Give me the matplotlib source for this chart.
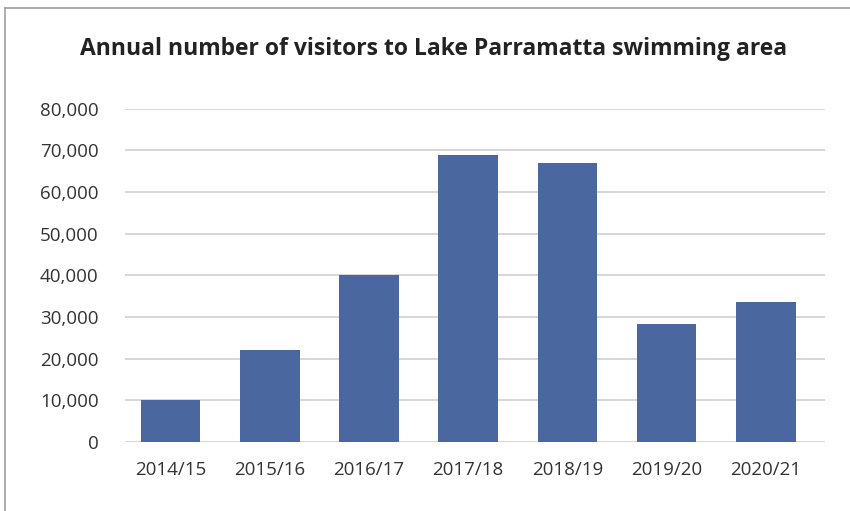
import matplotlib
matplotlib.use('Agg')
import matplotlib.pyplot as plt
from matplotlib.lines import Line2D

plt.rcParams['font.family'] = ['Open Sans', 'DejaVu Sans']

# data
years = ['2014/15', '2015/16', '2016/17', '2017/18', '2018/19', '2019/20', '2020/21']
visitors = [10000, 22000, 40000, 69000, 67000, 28300, 33500]
y_ticks = [0, 10000, 20000, 30000, 40000, 50000, 60000, 70000, 80000]

fig = plt.figure(figsize=(8.5, 5.11), dpi=100)
ax = fig.add_axes([0.147, 0.135, 0.824, 0.652])

x = range(len(years))
ax.bar(x, visitors, width=0.6, color='#4a67a0', zorder=3)

ax.set_ylim(0, 80000)
ax.set_xlim(-0.46, 6.6)
ax.set_yticks(y_ticks)
ax.set_yticklabels([f'{v:,}' for v in y_ticks])
ax.set_xticks(list(x))
ax.set_xticklabels(years)
ax.tick_params(axis='both', length=0, labelsize=13.5, colors='#333333')
ax.tick_params(axis='y', pad=19)
ax.tick_params(axis='x', pad=14)
ax.grid(axis='y', color='#d3d3d3', linewidth=1.3, zorder=0)
for s in ax.spines.values():
    s.set_visible(False)

fig.text(0.51, 0.905, 'Annual number of visitors to Lake Parramatta swimming area',
         ha='center', va='center', fontsize=16.5, fontweight='bold', color='#222222')

# frame of the screenshot (top and left edges)
fig.add_artist(Line2D([0.006, 1], [0.985, 0.985], transform=fig.transFigure, color='#a0a0a0', lw=1.2))
fig.add_artist(Line2D([0.006, 0.006], [0, 0.985], transform=fig.transFigure, color='#a0a0a0', lw=1.2))

fig.savefig('out.png', dpi=100)
